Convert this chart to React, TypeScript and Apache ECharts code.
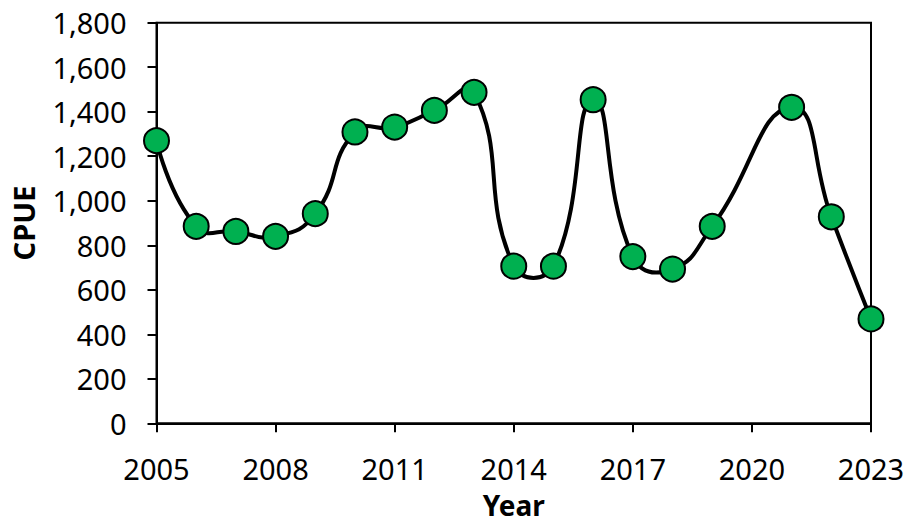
import React, { useEffect, useRef } from "react";
import * as echarts from "echarts";

const years = [2005, 2006, 2007, 2008, 2009, 2010, 2011, 2012, 2013, 2014, 2015, 2016, 2017, 2018, 2019, 2021, 2022, 2023];
const cpue = [1270, 885, 862, 840, 942, 1309, 1331, 1406, 1487, 706, 706, 1454, 749, 693, 885, 1420, 928, 469];
const yTicks = { min: 0, max: 1800, interval: 200 };
const xTicks = { min: 2005, max: 2023, interval: 3 };

export default function App() {
  const ref = useRef<HTMLDivElement>(null);
  useEffect(() => {
    if (!ref.current) return;
    const chart = echarts.init(ref.current, null, { renderer: "svg" });
    const font = "'Noto Sans', sans-serif";
    const points = years.map((y, i) => [y, cpue[i]]);
    const smooth = 0.5;
    chart.setOption({
      animation: false,
      backgroundColor: "#ffffff",
      grid: {
        left: 156.5,
        right: 34,
        top: 22.7,
        bottom: 99.7,
        show: true,
        borderColor: "#000",
        borderWidth: 2,
        backgroundColor: "transparent",
        outerBoundsMode: "none",
        containLabel: false,
      },
      xAxis: {
        type: "value",
        min: xTicks.min,
        max: xTicks.max,
        interval: xTicks.interval,
        name: "Year",
        nameLocation: "middle",
        nameGap: 69,
        nameTextStyle: { fontFamily: font, fontSize: 28, lineHeight: 26, fontWeight: "bold", color: "#000" },
        axisLine: { lineStyle: { color: "#000", width: 2 } },
        axisTick: { show: true, length: 9, lineStyle: { color: "#000", width: 2 } },
        axisLabel: { fontFamily: font, fontSize: 29, lineHeight: 28, color: "#000", margin: 31, formatter: (v: number) => String(v) },
        splitLine: { show: false },
      },
      yAxis: {
        type: "value",
        min: yTicks.min,
        max: yTicks.max,
        interval: yTicks.interval,
        name: "CPUE",
        nameLocation: "middle",
        nameGap: 119,
        nameTextStyle: { fontFamily: font, fontSize: 29, lineHeight: 29, fontWeight: "bold", color: "#000" },
        axisLine: { show: true, lineStyle: { color: "#000", width: 2 } },
        axisTick: { show: true, length: 9, lineStyle: { color: "#000", width: 2 } },
        axisLabel: {
          fontFamily: font,
          fontSize: 29,
          color: "#000",
          margin: 30,
          formatter: (v: number) => v.toLocaleString("en-US"),
        },
        splitLine: { show: false },
      },
      series: [
        {
          type: "custom",
          data: points.slice(0, -1),
          z: 1,
          clip: false,
          renderItem: (params: any, api: any) => {
            const i = params.dataIndex;
            const n = points.length;
            const C = (k: number) => api.coord(points[k]);
            const ctrl = (k: number) => {
              const p = C(k);
              if (k === 0 || k === n - 1) return { inc: p, out: p };
              const a = C(k - 1), b = C(k + 1);
              const vx = b[0] - a[0], vy = b[1] - a[1];
              const d0 = Math.hypot(p[0] - a[0], p[1] - a[1]);
              const d1 = Math.hypot(b[0] - p[0], b[1] - p[1]);
              const r1 = d1 / (d0 + d1), r0 = d0 / (d0 + d1);
              return {
                inc: [p[0] - vx * smooth * r0, p[1] - vy * smooth * r0],
                out: [p[0] + vx * smooth * r1, p[1] + vy * smooth * r1],
              };
            };
            const p1 = C(i), p2 = C(i + 1);
            const c1 = ctrl(i).out, c2 = ctrl(i + 1).inc;
            return {
              type: "bezierCurve",
              shape: {
                x1: p1[0], y1: p1[1],
                x2: p2[0], y2: p2[1],
                cpx1: c1[0], cpy1: c1[1],
                cpx2: c2[0], cpy2: c2[1],
              },
              style: { stroke: "#000", lineWidth: 4, fill: "none" },
            };
          },
        },
        {
          type: "line",
          data: points,
          z: 3,
          lineStyle: { width: 0, opacity: 0 },
          symbol: "circle",
          symbolSize: 25,
          itemStyle: { color: "#00B050", borderColor: "#000", borderWidth: 2 },
          clip: false,
        },
      ],
    });
    return () => chart.dispose();
  }, []);
  return <div ref={ref} style={{ position: "fixed", left: 0, top: 0, width: 905, height: 523 }} />;
}
